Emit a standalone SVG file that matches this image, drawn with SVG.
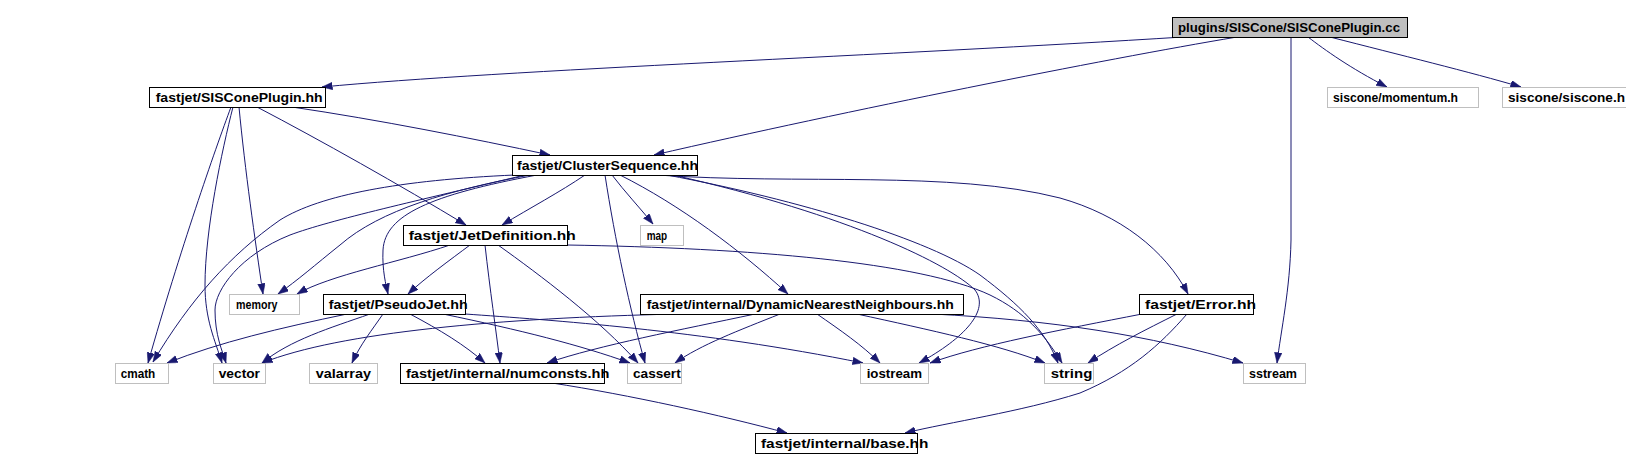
<svg xmlns="http://www.w3.org/2000/svg" width="1626" height="470" viewBox="0 0 1626 470">
<style>
.n rect{fill:#fff;stroke:#000;stroke-width:1}
.n.root rect{fill:#bfbfbf}
.n.ext rect{stroke:#bfbfbf}
text{font-family:"Liberation Sans",Arial,sans-serif;font-size:13px;font-weight:bold;fill:#000}
.edges path{fill:none;stroke:#191970;stroke-width:1;marker-end:url(#arr)}
</style>
<defs>
<marker id="arr" markerUnits="userSpaceOnUse" markerWidth="11" markerHeight="8" refX="10.5" refY="3.75" orient="auto">
<path d="M0,0 L10.5,3.75 L0,7.5 z" fill="#191970" stroke="#191970" stroke-width="0.5"/>
</marker>
</defs>
<rect x="0" y="0" width="1626" height="470" fill="#fff"/>
<g class="edges">
<path d="M1183,37 C900,55 500,70 322,87"/>
<path d="M1237,37 C1100,60 850,110 654,155"/>
<path d="M1308,37 C1325,50 1350,68 1387,87"/>
<path d="M1330,37 C1400,55 1470,72 1521,87"/>
<path d="M1291,37 L1291,240 C1290,290 1281,330 1277,363"/>
<path d="M292,107 C380,120 470,138 550,155"/>
<path d="M257,107 C320,140 400,185 466,225"/>
<path d="M239,107 C245,170 255,240 263,294"/>
<path d="M231,107 C215,150 180,250 148,363"/>
<path d="M233,107 C222,150 205,230 205,285 C205,320 215,340 222,363"/>
<path d="M585,175 C560,192 530,208 502,225"/>
<path d="M515,175 C400,180 320,195 280,220 C230,255 190,300 153,362"/>
<path d="M525,175 C420,200 330,220 290,235 C240,255 215,290 215,310 C215,335 222,350 226,363"/>
<path d="M530,175 C450,190 380,210 340,245 C315,265 298,280 278,294"/>
<path d="M537,175 C430,195 385,215 383,250 C382,270 386,285 388,294"/>
<path d="M612,175 C625,192 640,208 653,224"/>
<path d="M605,175 C615,240 630,310 645,363"/>
<path d="M620,175 C680,205 740,250 788,294"/>
<path d="M657,175 C800,185 950,170 1060,198 C1120,215 1165,250 1188,294"/>
<path d="M667,175 C800,200 930,240 980,275 C1020,305 1045,330 1058,363"/>
<path d="M673,175 C850,215 950,265 975,290 C990,310 965,338 919,363"/>
<path d="M450,245 C400,262 330,275 297,294"/>
<path d="M470,245 C450,260 425,278 408,294"/>
<path d="M485,245 C490,290 496,330 500,363"/>
<path d="M498,245 C540,275 600,320 638,363"/>
<path d="M567,245 C750,248 920,262 990,295 C1025,312 1045,335 1062,363"/>
<path d="M347,314 C280,328 220,342 167,363"/>
<path d="M370,314 C330,328 290,340 262,363"/>
<path d="M383,314 C372,330 360,345 352,363"/>
<path d="M410,314 C440,330 465,345 485,363"/>
<path d="M443,314 C520,330 580,345 630,363"/>
<path d="M465,314 C550,320 700,330 863,363"/>
<path d="M677,314 C500,318 340,332 262,363"/>
<path d="M755,314 C680,330 600,345 547,363"/>
<path d="M780,314 C740,330 700,345 675,363"/>
<path d="M817,314 C840,330 862,345 880,363"/>
<path d="M857,314 C930,330 1000,345 1045,363"/>
<path d="M933,314 C1050,320 1150,335 1243,363"/>
<path d="M1142,314 C1060,330 980,345 930,363"/>
<path d="M1177,314 C1145,330 1115,345 1088,363"/>
<path d="M1187,314 C1160,345 1130,372 1080,393 C1020,412 950,422 905,433"/>
<path d="M552,383 C630,395 720,415 787,433"/>
</g>
<g id="node-siscone-plugin-cc" class="n root"><rect x="1172.5" y="17.5" width="235" height="20"/><text x="1178" y="32" textLength="222" lengthAdjust="spacingAndGlyphs">plugins/SISCone/SISConePlugin.cc</text></g>
<g id="node-siscone-plugin-hh" class="n"><rect x="149.5" y="87.5" width="176" height="20"/><text x="155.7" y="102" textLength="167" lengthAdjust="spacingAndGlyphs">fastjet/SISConePlugin.hh</text></g>
<g id="node-momentum" class="n ext"><rect x="1327.5" y="87.5" width="151" height="20"/><text x="1333" y="102" textLength="125" lengthAdjust="spacingAndGlyphs">siscone/momentum.h</text></g>
<g id="node-siscone" class="n ext"><rect x="1502.5" y="87.5" width="129" height="20"/><text x="1508" y="102" textLength="117" lengthAdjust="spacingAndGlyphs">siscone/siscone.h</text></g>
<g id="node-clustersequence" class="n"><rect x="512.5" y="155.5" width="185" height="20"/><text x="517" y="170" textLength="181" lengthAdjust="spacingAndGlyphs">fastjet/ClusterSequence.hh</text></g>
<g id="node-jetdefinition" class="n"><rect x="403.5" y="225.5" width="164" height="20"/><text x="408.7" y="240" textLength="167" lengthAdjust="spacingAndGlyphs">fastjet/JetDefinition.hh</text></g>
<g id="node-map" class="n ext"><rect x="640.5" y="225.5" width="43" height="20"/><text x="646.7" y="240" textLength="20.5" lengthAdjust="spacingAndGlyphs">map</text></g>
<g id="node-memory" class="n ext"><rect x="229.5" y="294.5" width="70" height="20"/><text x="236" y="309" textLength="41.5" lengthAdjust="spacingAndGlyphs">memory</text></g>
<g id="node-pseudojet" class="n"><rect x="323.5" y="294.5" width="142" height="20"/><text x="328.7" y="309" textLength="139" lengthAdjust="spacingAndGlyphs">fastjet/PseudoJet.hh</text></g>
<g id="node-dnn" class="n"><rect x="640.5" y="294.5" width="323" height="20"/><text x="646.7" y="309" textLength="307" lengthAdjust="spacingAndGlyphs">fastjet/internal/DynamicNearestNeighbours.hh</text></g>
<g id="node-error" class="n"><rect x="1139.5" y="294.5" width="114" height="20"/><text x="1145" y="309" textLength="111" lengthAdjust="spacingAndGlyphs">fastjet/Error.hh</text></g>
<g id="node-cmath" class="n ext"><rect x="115.5" y="363.5" width="53" height="20"/><text x="120.7" y="378" textLength="34.6" lengthAdjust="spacingAndGlyphs">cmath</text></g>
<g id="node-vector" class="n ext"><rect x="213.5" y="363.5" width="52" height="20"/><text x="218.7" y="378" textLength="41.3" lengthAdjust="spacingAndGlyphs">vector</text></g>
<g id="node-valarray" class="n ext"><rect x="309.5" y="363.5" width="68" height="20"/><text x="315.7" y="378" textLength="55.3" lengthAdjust="spacingAndGlyphs">valarray</text></g>
<g id="node-numconsts" class="n"><rect x="400.5" y="363.5" width="204" height="20"/><text x="406" y="378" textLength="203.3" lengthAdjust="spacingAndGlyphs">fastjet/internal/numconsts.hh</text></g>
<g id="node-cassert" class="n ext"><rect x="627.5" y="363.5" width="54" height="20"/><text x="633" y="378" textLength="47.7" lengthAdjust="spacingAndGlyphs">cassert</text></g>
<g id="node-iostream" class="n ext"><rect x="860.5" y="363.5" width="68" height="20"/><text x="866.7" y="378" textLength="55.3" lengthAdjust="spacingAndGlyphs">iostream</text></g>
<g id="node-string" class="n ext"><rect x="1044.5" y="363.5" width="49" height="20"/><text x="1050.7" y="378" textLength="41.6" lengthAdjust="spacingAndGlyphs">string</text></g>
<g id="node-sstream" class="n ext"><rect x="1243.5" y="363.5" width="62" height="20"/><text x="1249" y="378" textLength="48" lengthAdjust="spacingAndGlyphs">sstream</text></g>
<g id="node-base" class="n"><rect x="755.5" y="433.5" width="162" height="20"/><text x="761" y="448" textLength="167.3" lengthAdjust="spacingAndGlyphs">fastjet/internal/base.hh</text></g>
</svg>
